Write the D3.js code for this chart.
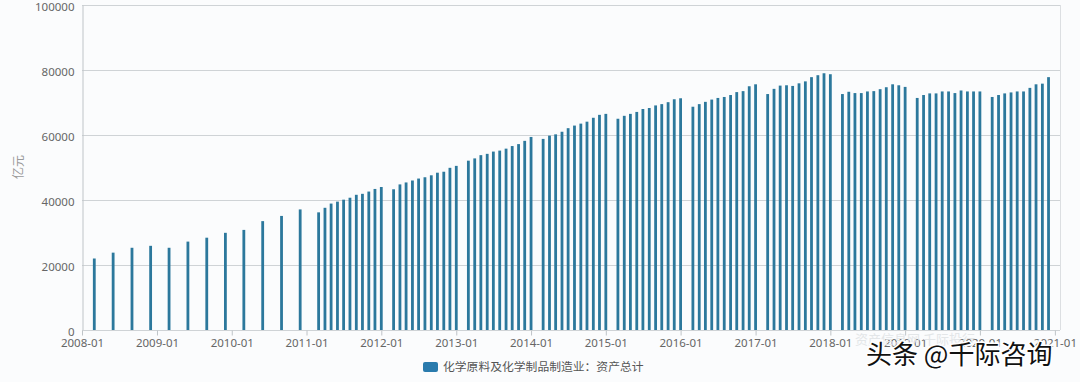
<!DOCTYPE html>
<html>
<head>
<meta charset="utf-8">
<script src="https://cdn.jsdelivr.net/npm/d3@7"></script>
<style>
html,body{margin:0;padding:0;background:#fbfcfd;}
svg{display:block;}
</style>
</head>
<body>
<svg id="chart" width="1080" height="382"></svg>
<script>
// ---- data ----
const months = [
  "2008-03","2008-06","2008-09","2008-12","2009-03","2009-06","2009-09","2009-12","2010-03","2010-06","2010-09","2010-12",
  "2011-03","2011-04","2011-05","2011-06","2011-07","2011-08","2011-09","2011-10","2011-11","2011-12","2012-01",
  "2012-03","2012-04","2012-05","2012-06","2012-07","2012-08","2012-09","2012-10","2012-11","2012-12","2013-01",
  "2013-03","2013-04","2013-05","2013-06","2013-07","2013-08","2013-09","2013-10","2013-11","2013-12","2014-01",
  "2014-03","2014-04","2014-05","2014-06","2014-07","2014-08","2014-09","2014-10","2014-11","2014-12","2015-01",
  "2015-03","2015-04","2015-05","2015-06","2015-07","2015-08","2015-09","2015-10","2015-11","2015-12","2016-01",
  "2016-03","2016-04","2016-05","2016-06","2016-07","2016-08","2016-09","2016-10","2016-11","2016-12","2017-01",
  "2017-03","2017-04","2017-05","2017-06","2017-07","2017-08","2017-09","2017-10","2017-11","2017-12","2018-01",
  "2018-03","2018-04","2018-05","2018-06","2018-07","2018-08","2018-09","2018-10","2018-11","2018-12","2019-01",
  "2019-03","2019-04","2019-05","2019-06","2019-07","2019-08","2019-09","2019-10","2019-11","2019-12","2020-01",
  "2020-03","2020-04","2020-05","2020-06","2020-07","2020-08","2020-09","2020-10","2020-11","2020-12"
];
const assets = [
  22000,23800,25300,25900,25300,27200,28400,29900,30800,33500,35100,37100,
  36200,37600,38900,39500,40100,40700,41600,41900,42600,43400,44000,
  43300,44800,45400,46000,46600,47000,47600,48400,48700,49900,50500,
  52100,52800,53800,54200,54900,55200,55800,56600,57200,58200,59400,
  58800,59800,60200,61000,62100,62900,63500,64100,65300,66200,66500,
  65000,65900,66500,67100,68000,68300,69100,69500,70100,71000,71300,
  68700,69500,70200,70900,71400,71700,72300,73200,73500,75000,75600,
  72600,74200,75200,75300,75100,75900,76500,77800,78400,79000,78700,
  72600,73300,72900,72900,73400,73500,74100,74700,75600,75300,74800,
  71400,72300,72800,72800,73400,73400,72900,73700,73400,73400,73400,
  71700,72300,72800,73100,73400,73400,74500,75600,75800,77800
];
const xTickLabels = ["2008-01","2009-01","2010-01","2011-01","2012-01","2013-01","2014-01","2015-01","2016-01","2017-01","2018-01","2019-01","2020-01","2021-01"];
const yTicks = [0,20000,40000,60000,80000,100000];
const seriesName = "化学原料及化学制品制造业：资产总计";
const yTitle = "亿元";

// ---- layout ----
const parse = d3.timeParse("%Y-%m");
const svg = d3.select("#chart");
const mLeft = 82, mRight = 1060, mTop = 5, mBottom = 330;
const barColor = "#2c789c";
const textColor = "#666";
const fontNum = "'Noto Sans', 'Liberation Sans', sans-serif";
const fontCJK = "'Noto Sans CJK SC', 'Noto Sans', sans-serif";

const x = d3.scaleTime()
  .domain([parse("2008-01"), new Date(2021, 0, 26)])
  .range([mLeft, mRight]);
const y = d3.scaleLinear().domain([0, 100000]).range([mBottom, mTop]);

// gridlines
svg.append("g")
  .selectAll("line")
  .data(yTicks.filter(d => d > 0))
  .join("line")
  .attr("x1", mLeft).attr("x2", mRight)
  .attr("y1", d => Math.round(y(d)) + 0.5).attr("y2", d => Math.round(y(d)) + 0.5)
  .attr("stroke", "#cfd3d6").attr("stroke-width", 1);

// right border
svg.append("line")
  .attr("x1", mRight + 0.5).attr("x2", mRight + 0.5)
  .attr("y1", mTop).attr("y2", mBottom)
  .attr("stroke", "#dcdfe2");

// bars
const bw = 2.8;
svg.append("g")
  .selectAll("rect")
  .data(months.map((m, i) => ({date: parse(m), v: assets[i]})))
  .join("rect")
  .attr("x", d => x(d.date) - bw / 2)
  .attr("width", bw)
  .attr("y", d => y(d.v))
  .attr("height", d => y(0) - y(d.v))
  .attr("fill", barColor);

// y axis
const yAxis = d3.axisLeft(y).tickValues(yTicks).tickSize(0).tickPadding(8).tickFormat(d3.format("d"));
const gy = svg.append("g").attr("transform", `translate(${mLeft + 0.5},0)`).call(yAxis);
gy.select(".domain").attr("stroke", "#bfc4c8");
gy.selectAll("text").attr("fill", textColor).attr("dy", "0.45em")
  .style("font-family", fontNum).style("font-size", "11.5px");

// x axis
const xAxis = d3.axisBottom(x)
  .tickValues(xTickLabels.map(parse))
  .tickSize(5).tickPadding(3)
  .tickFormat(d3.timeFormat("%Y-%m"));
const gx = svg.append("g").attr("transform", `translate(0,${mBottom + 0.5})`).call(xAxis);
gx.select(".domain").attr("stroke", "#cfd3d6").attr("d", `M${mLeft},0H${mRight}`);
gx.selectAll(".tick line").attr("stroke", "#bfc4c8");
gx.selectAll("text").attr("fill", textColor).style("font-family", fontNum).style("font-size", "11.5px");

// y title
svg.append("text")
  .attr("transform", "translate(23,167) rotate(-90)")
  .attr("text-anchor", "middle")
  .attr("fill", "#999")
  .style("font-family", fontCJK).style("font-size", "12px")
  .text(yTitle);

// legend
const lg = svg.append("g").attr("transform", "translate(423,362)");
lg.append("rect").attr("width", 15).attr("height", 10).attr("rx", 2).attr("fill", "#2a7bad");
lg.append("text").attr("x", 20).attr("y", 5).attr("dy", "0.35em")
  .attr("fill", "#555")
  .style("font-family", fontCJK).style("font-size", "11.8px")
  .text(seriesName);

// watermarks
svg.append("text")
  .attr("x", 855).attr("y", 344)
  .attr("fill", "#e3e6e8")
  .style("font-family", fontCJK).style("font-size", "13px")
  .text("资产信息网  千际投行");
svg.append("text")
  .attr("x", 866).attr("y", 364)
  .attr("fill", "#111")
  .attr("stroke", "#fff").attr("stroke-width", 3).attr("paint-order", "stroke")
  .style("font-family", fontCJK).style("font-size", "26px")
  .text("头条 @千际咨询");
</script>
</body>
</html>
